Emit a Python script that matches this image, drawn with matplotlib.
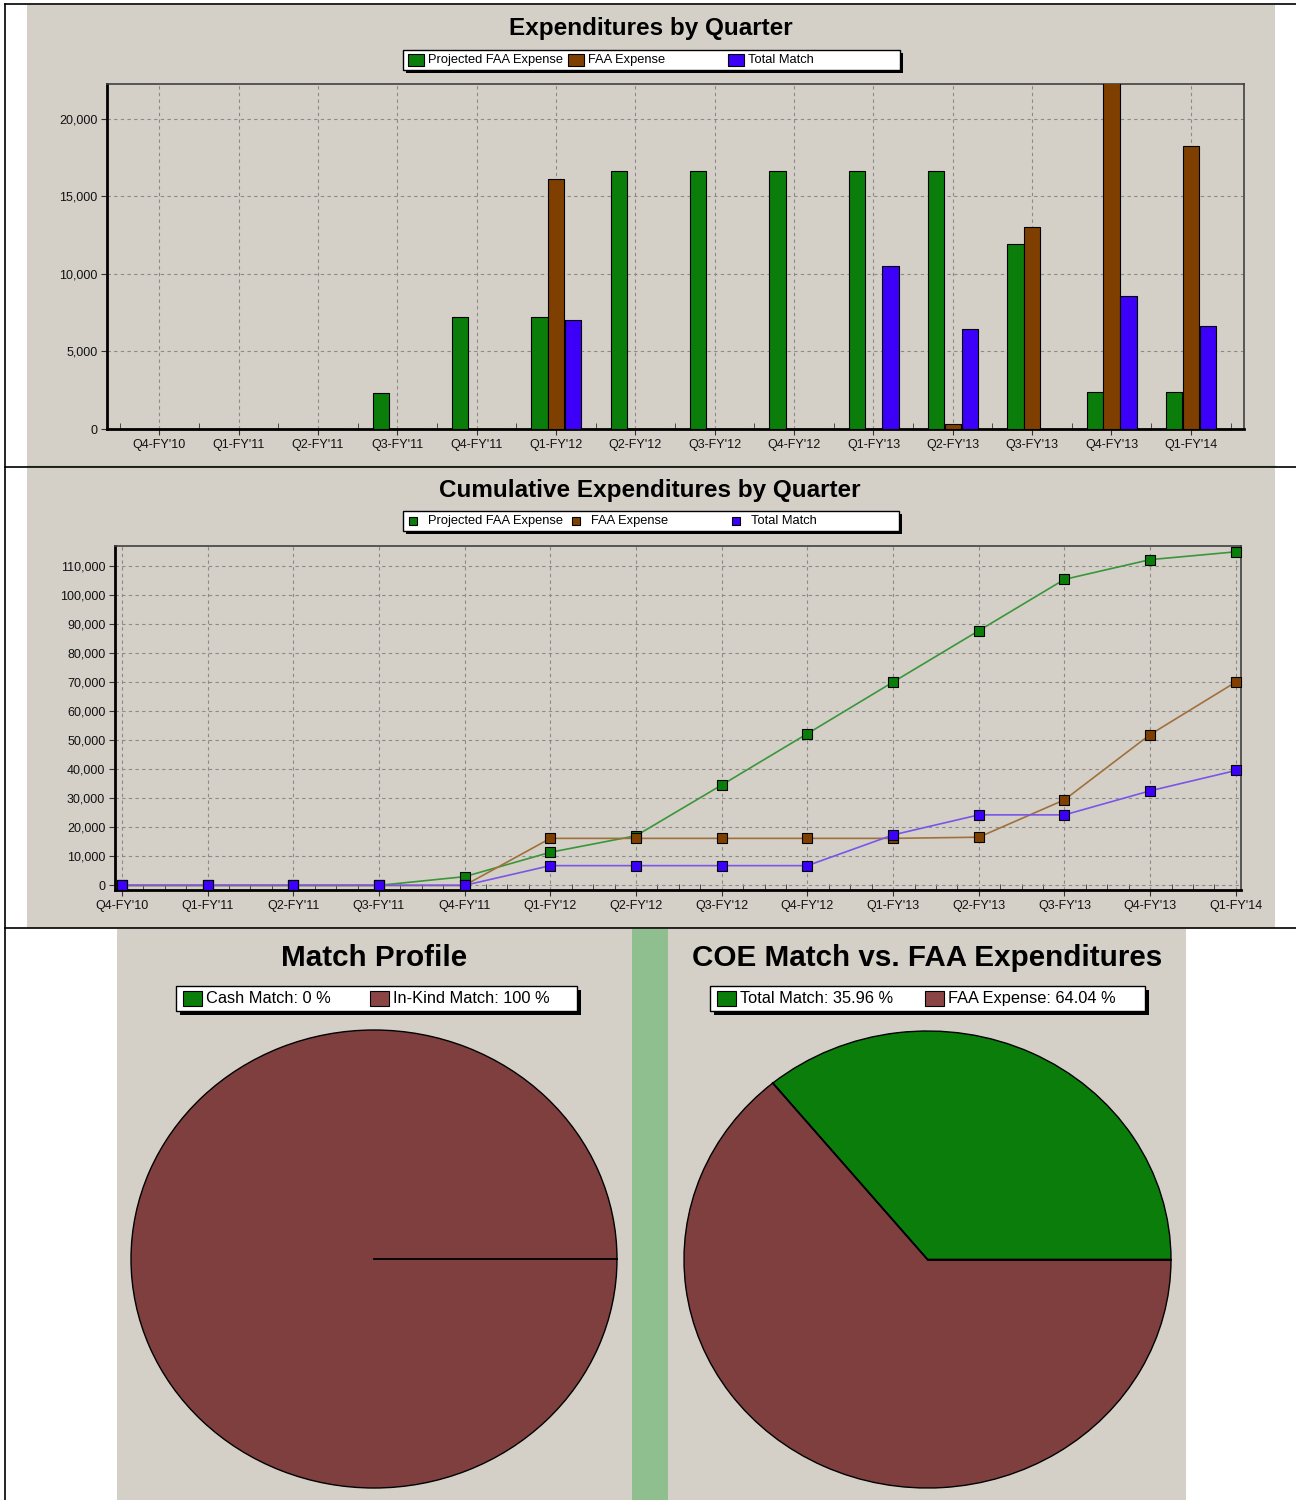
import numpy as np
import matplotlib
matplotlib.use('Agg')
import matplotlib.pyplot as plt
from matplotlib.patches import Rectangle
from matplotlib.ticker import MultipleLocator, FuncFormatter
from matplotlib import font_manager

plt.rcParams['font.family'] = ['Liberation Sans', 'DejaVu Sans']
names = {f.name for f in font_manager.fontManager.ttflist}
narrow = 'Liberation Sans Narrow' if 'Liberation Sans Narrow' in names else 'Liberation Sans'

# --- data ---
quarters = ["Q4-FY'10", "Q1-FY'11", "Q2-FY'11", "Q3-FY'11", "Q4-FY'11", "Q1-FY'12", "Q2-FY'12",
            "Q3-FY'12", "Q4-FY'12", "Q1-FY'13", "Q2-FY'13", "Q3-FY'13", "Q4-FY'13", "Q1-FY'14"]
series_names = ["Projected FAA Expense", "FAA Expense", "Total Match"]

proj_faa = [0, 0, 0, 2340, 7250, 7250, 16667, 16667, 16667, 16667, 16667, 11900, 2400, 2400]
faa_exp = [0, 0, 0, 0, 0, 16100, 0, 0, 0, 0, 300, 13050, 23000, 18250]
total_match = [0, 0, 0, 0, 0, 7000, 0, 0, 0, 10500, 6430, 0, 8600, 6650]

cum_proj = [0, 0, 0, 0, 3000, 11400, 17100, 34600, 52300, 70100, 87800, 105500, 112300, 115000]
cum_faa = [0, 0, 0, 0, 0, 16200, 16200, 16200, 16200, 16200, 16600, 29500, 52000, 70100]
cum_match = [0, 0, 0, 0, 0, 6800, 6800, 6800, 6800, 17400, 24300, 24300, 32600, 39600]

profile_labels = ["Cash Match", "In-Kind Match"]
profile_pct = [0, 100]
coe_labels = ["Total Match", "FAA Expense"]
coe_pct = [35.96, 64.04]

# colours
GRAY = '#d4d0c8'
GREEN = '#0a7d0a'
BROWN = '#7f3f00'
BLUE = '#3c00f8'
MAROON = '#7f3f3f'
STRIP = '#8fbf8f'

W, H = 1296, 1500
fig = plt.figure(figsize=(W / 100, H / 100), dpi=100, facecolor='white')


def fax(x0, y0, x1, y1):
    return [x0 / W, 1 - y1 / H, (x1 - x0) / W, (y1 - y0) / H]


# background in pixel coordinates
bg = fig.add_axes([0, 0, 1, 1], zorder=-5)
bg.set_xlim(0, W)
bg.set_ylim(H, 0)
bg.axis('off')


def rect(x0, y0, x1, y1, **kw):
    bg.add_patch(Rectangle((x0, y0), x1 - x0, y1 - y0, **kw))


rect(27, 5, 1275, 466, color=GRAY, lw=0)
bg.plot([27, 1275], [466, 466], color=STRIP, lw=1)
rect(27, 468, 1275, 928, color=GRAY, lw=0)
rect(117, 929, 632, 1500, color=GRAY, lw=0)
rect(632, 929, 668, 1500, color=STRIP, lw=0)
rect(668, 929, 1186, 1500, color=GRAY, lw=0)
for yy in [4, 467, 928]:
    bg.plot([5, 1296], [yy, yy], color='black', lw=1.2)
bg.plot([5, 5], [4, 1500], color='black', lw=1.2)


def legend_box(x0, y0, x1, y1, sh=3):
    rect(x0 + sh, y0 + sh, x1 + sh, y1 + sh, color='black', lw=0)
    rect(x0, y0, x1, y1, facecolor='white', edgecolor='black', lw=1)


# titles
bg.text(651, 28, "Expenditures by Quarter", ha='center', va='center', fontsize=17.5, fontweight='bold')
bg.text(650, 490, "Cumulative Expenditures by Quarter", ha='center', va='center', fontsize=17.5, fontweight='bold')

# legend for bar chart
legend_box(403, 50, 900, 70)
for sx, col, lab in zip([408, 568, 728], [GREEN, BROWN, BLUE], series_names):
    rect(sx, 54, sx + 16, 66, facecolor=col, edgecolor='black', lw=0.8)
    bg.text(sx + 20, 60, lab, ha='left', va='center', fontsize=9.3)

# legend for line chart
legend_box(403, 511, 899, 531)
for sx, col, lab in zip([413, 576, 736], [GREEN, BROWN, BLUE], series_names):
    rect(sx - 4, 517, sx + 4, 525, facecolor=col, edgecolor='black', lw=0.8)
    bg.text(sx + (428 - 413), 521, lab, ha='left', va='center', fontsize=9.3)

comma = FuncFormatter(lambda v, p: f"{v:,.0f}")


def style_axes(ax):
    ax.set_facecolor('none')
    ax.set_axisbelow(True)
    ax.grid(True, which='major', ls=(0, (3, 3)), color='#8a8a8a', lw=0.8)
    for s in ['left', 'bottom']:
        ax.spines[s].set_linewidth(2)
        ax.spines[s].set_color('black')
    for s in ['top', 'right']:
        ax.spines[s].set_linewidth(1.2)
        ax.spines[s].set_color('#404040')
    ax.tick_params(axis='both', which='major', labelsize=9, length=4, pad=3, color='#333333',
                   labelcolor='#111111')
    ax.tick_params(axis='x', which='minor', direction='in', length=4, color='#333333')
    ax.yaxis.set_major_formatter(comma)


# --- bar chart ---
x = np.arange(len(quarters))
ax1 = fig.add_axes(fax(107, 84, 1244, 429))
w = 0.205
ax1.bar(x - 0.21, proj_faa, w, color=GREEN, edgecolor='black', lw=0.8, zorder=3)
ax1.bar(x, faa_exp, w, color=BROWN, edgecolor='black', lw=0.8, zorder=3)
ax1.bar(x + 0.215, total_match, w, color=BLUE, edgecolor='black', lw=0.8, zorder=3)
ax1.set_xlim(-0.66, 13.67)
ax1.set_ylim(0, 22250)
ax1.yaxis.set_major_locator(MultipleLocator(5000))
ax1.set_xticks(x, quarters)
ax1.set_xticks(np.arange(-0.5, 13.6, 1), minor=True)
style_axes(ax1)

# --- cumulative line chart ---
ax2 = fig.add_axes(fax(115, 546, 1241, 890))
for vals, lc, fc in [(cum_proj, '#3a963a', GREEN), (cum_faa, '#a0703c', BROWN), (cum_match, '#7a55e8', BLUE)]:
    ax2.plot(x, vals, color=lc, lw=1.2, marker='s', markersize=7, markerfacecolor=fc,
             markeredgecolor='black', markeredgewidth=0.8, clip_on=False, zorder=3)
ax2.set_xlim(-0.08, 13.06)
ax2.set_ylim(-1600, 117000)
ax2.yaxis.set_major_locator(MultipleLocator(10000))
ax2.set_xticks(x, quarters)
ax2.set_xticks(np.arange(0, 13.01, 0.25), minor=True)
style_axes(ax2)

# --- pies ---
bg.text(374, 958, "Match Profile", ha='center', va='center', fontsize=21.3, fontweight='bold',
        family=[narrow, 'DejaVu Sans'])
bg.text(927, 958, "COE Match vs. FAA Expenditures", ha='center', va='center', fontsize=21.3,
        fontweight='bold', family=[narrow, 'DejaVu Sans'])

legend_box(176, 986, 577, 1011, sh=4)
legend_box(710, 986, 1145, 1011, sh=4)
pie_leg = [(183, GREEN, f"{profile_labels[0]}: {profile_pct[0]:g} %"),
           (370, '#8b4444', f"{profile_labels[1]}: {profile_pct[1]:g} %"),
           (717, GREEN, f"{coe_labels[0]}: {coe_pct[0]:.2f} %"),
           (925, '#8b4444', f"{coe_labels[1]}: {coe_pct[1]:.2f} %")]
for sx, col, lab in pie_leg:
    rect(sx, 991, sx + 19, 1006, facecolor=col, edgecolor='black', lw=0.8)
    bg.text(sx + 23, 998.5, lab, ha='left', va='center', fontsize=11.8, family=[narrow, 'DejaVu Sans'])

for box, vals in [((131, 1030, 617, 1488), profile_pct), ((684, 1031, 1171, 1488), coe_pct)]:
    ax = fig.add_axes(fax(*box))
    wedges, _ = ax.pie(vals, colors=[GREEN, MAROON], startangle=0, counterclock=True,
                       wedgeprops=dict(edgecolor='black', linewidth=1))
    for wd in wedges:
        wd.set_clip_on(False)
    # wedge boundaries (radial edges), taken from the slice shares
    bounds = np.deg2rad(360 * np.cumsum([0] + list(vals)) / sum(vals))
    for a in np.unique(np.round(bounds % (2 * np.pi), 6)):
        ax.plot([0, np.cos(a)], [0, np.sin(a)], color='black', lw=1.3, clip_on=False)
    ax.set_aspect('auto')
    ax.set_xlim(-1, 1)
    ax.set_ylim(-1, 1)
    ax.axis('off')

fig.savefig('out.png', dpi=100, facecolor='white')
